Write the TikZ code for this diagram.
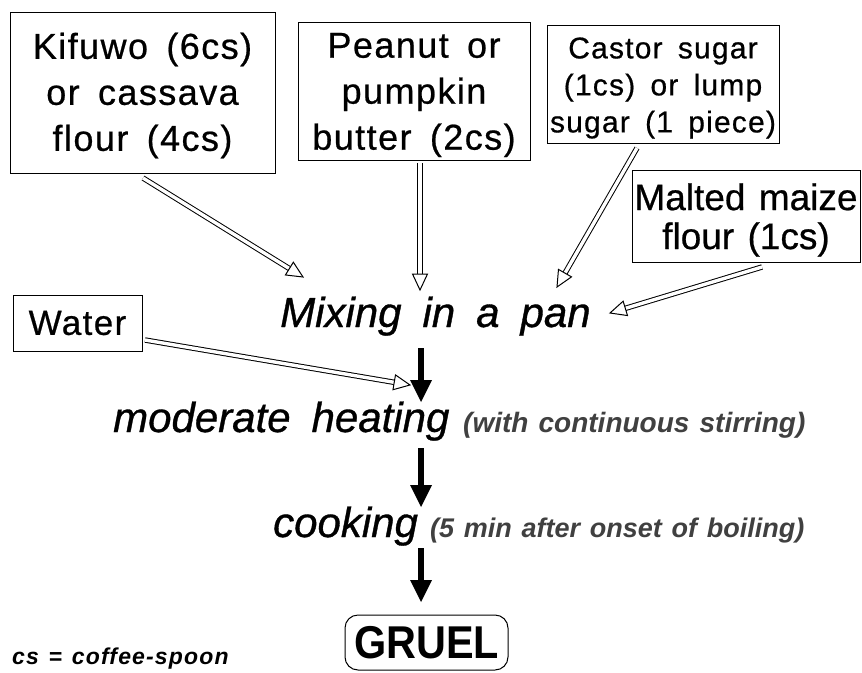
\documentclass[tikz,border=0pt]{standalone}
\usepackage{fontspec}
\setmainfont{Liberation Sans}
\newfontfamily\boxfont[LetterSpace=4,WordSpace=1.6,FakeBold=0.6]{Liberation Sans}
\newfontfamily\malfont[WordSpace=1.3,FakeBold=0.6]{Liberation Sans}
\newfontfamily\stepfont[WordSpace=1.8,FakeBold=0.8]{Liberation Sans}
\newfontfamily\notefont[WordSpace=1.3]{Liberation Sans}
\newfontfamily\csfont[LetterSpace=5,WordSpace=1.3]{Liberation Sans}
\newfontfamily\gruelfont[FakeStretch=0.9]{Liberation Sans}
\usetikzlibrary{calc}
\newcommand\hollowarrow[2]{%
  \draw[line width=1pt, double=white, double distance=3.4pt, shorten >=14pt] (#1) -- (#2);
  \coordinate (hb) at ($(#2)!16pt!(#1)$);
  \filldraw[fill=white, line width=1pt, line join=miter] (#2) -- ($(hb)!7.5pt!90:(#2)$) -- ($(hb)!7.5pt!-90:(#2)$) -- cycle;
}
\newcommand\flowhead[2]{%
  \fill (#2) -- ($($(#2)!22pt!(#1)$)!11pt!90:(#2)$) -- ($($(#2)!22pt!(#1)$)!11pt!-90:(#2)$) -- cycle;}
\begin{document}
\begin{tikzpicture}[x=1pt,y=-1pt]
\useasboundingbox (0,0) rectangle (862,672);
\tikzset{
  ingr/.style={draw, line width=1pt, inner sep=0pt},
  boxtext/.style={inner sep=0pt, align=center},
  big/.style={font=\boxfont\fontsize{36}{46}\selectfont},
  mid/.style={font=\boxfont\fontsize{30}{37}\selectfont},
  stepnode/.style={inner sep=0pt, anchor=base west, font=\stepfont\itshape\fontsize{42}{44}\selectfont},
  notenode/.style={inner sep=0pt, anchor=base west, text=black!75, font=\notefont\bfseries\itshape\fontsize{28}{30}\selectfont},
  flow/.style={line width=6pt, shorten >=20pt},
}
% ingredient boxes
\node[ingr, minimum width=265pt, minimum height=161pt] (kif) at (142.5,92.5) {};
\node[boxtext, big] (kift) at ($(kif.center)+(0,3)$) {Kifuwo (6cs)\\or cassava\\flour (4cs)};
\node[ingr, minimum width=232pt, minimum height=138pt] (pea) at (414,91) {};
\node[boxtext, big] (peat) at ($(pea.center)+(0,4)$) {Peanut or\\pumpkin\\butter (2cs)};
\node[ingr, minimum width=232pt, minimum height=118pt] (cas) at (663,84) {};
\node[boxtext, mid] (cast) at ($(cas.center)+(0,4)$) {Castor sugar\\(1cs) or lump\\sugar (1 piece)};
\node[ingr, minimum width=228pt, minimum height=92pt] (mal) at (746,216) {};
\node[boxtext, font=\malfont\fontsize{37}{39}\selectfont] (malt) at ($(mal.center)+(0,4)$) {Malted maize\\flour (1cs)};
\node[ingr, font=\boxfont\fontsize{35}{36}\selectfont, minimum width=129pt, minimum height=56pt] (wat) at (77.5,323) {Water};
% process steps
\node[stepnode] (mix) at (280,327) {Mixing in a pan};
\node[stepnode] (heat) at (113,432) {moderate heating};
\node[notenode] (heatnote) at (463,432) {(with continuous stirring)};
\node[stepnode] (cook) at (273,537) {cooking};
\node[notenode, font=\notefont\bfseries\itshape\fontsize{27}{30}\selectfont] (cooknote) at (430,537) {(5 min after onset of boiling)};
\node[draw, line width=1pt, rounded corners=13pt, inner sep=0pt, minimum width=163pt, minimum height=55pt, font=\gruelfont\bfseries\fontsize{46}{48}\selectfont] (gruel) at (426.5,642.5) {GRUEL};
\node[inner sep=0pt, anchor=base west, font=\csfont\bfseries\itshape\fontsize{23}{25}\selectfont] (csnote) at (12,664) {cs = coffee-spoon};
% connector end points
\coordinate (kifo) at (143,178);
\coordinate (kifi) at (303,277);
\coordinate (peao) at (420,163);
\coordinate (peai) at (420,290);
\coordinate (caso) at (637,148);
\coordinate (casi) at (557,287);
\coordinate (malo) at (762,267);
\coordinate (mali) at (610,313);
\coordinate (wato) at (145,340);
\coordinate (wati) at (410,385);
\hollowarrow{kifo}{kifi}
\hollowarrow{peao}{peai}
\hollowarrow{caso}{casi}
\hollowarrow{malo}{mali}
\hollowarrow{wato}{wati}
% main flow
\coordinate (f1a) at (421,348); \coordinate (f1b) at (421,402);
\coordinate (f2a) at (421,448); \coordinate (f2b) at (421,507);
\coordinate (f3a) at (421,548); \coordinate (f3b) at (421,602);
\draw[flow] (f1a) -- (f1b); \flowhead{f1a}{f1b}
\draw[flow] (f2a) -- (f2b); \flowhead{f2a}{f2b}
\draw[flow] (f3a) -- (f3b); \flowhead{f3a}{f3b}
\end{tikzpicture}
\end{document}
